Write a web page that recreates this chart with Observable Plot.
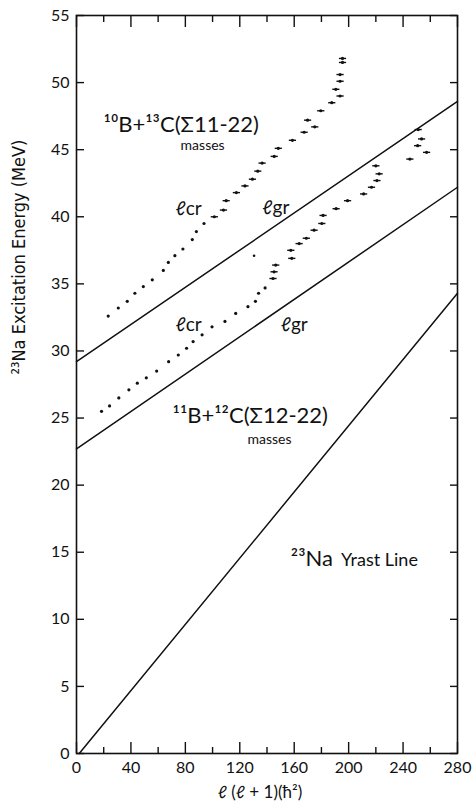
<!DOCTYPE html>
<html>
<head>
<meta charset="utf-8">
<script src="https://cdn.jsdelivr.net/npm/d3@7"></script>
<script src="https://cdn.jsdelivr.net/npm/@observablehq/plot@0.6"></script>
<style>
  html, body { margin: 0; padding: 0; background: #fff; }
  svg { display: block; }
</style>
</head>
<body>
<div id="chart"></div>
<script>
// ---- Data ----
// 10B + 13C series
const upperX = [23.3,30.7,37.3,42.9,49.1,55.7,63.8,67.5,72.3,78.2,85.1,88.1,93.7,101.3,108.0,110.0,117.5,123.8,129.3,133.2,136.4,145.3,148.3,158.7,167.3,175.1,169.8,179.5,187.6,193.7,190.6,193.7,193.7,195.5,195.5];
const upperY = [32.6,33.2,33.7,34.3,34.8,35.3,36.0,36.6,37.1,37.6,38.3,38.9,39.5,40.0,40.5,41.2,41.8,42.3,42.8,43.4,44.0,44.5,45.1,45.7,46.3,46.7,47.2,47.9,48.5,49.0,49.5,50.1,50.6,51.5,51.8];
// 11B + 12C series
const lowerX = [18.4,24.3,31.1,38.5,44.7,51.3,58.9,67.7,74.8,80.9,85.7,92.3,99.6,109.1,117.0,126.0,131.5,133.8,138.6,144.4,145.2,146.4,158.2,157.5,163.6,168.9,174.6,180.3,181.2,190.8,199.2,211.0,216.8,220.8,222.4,220.0,251.1,253.6,250.7,257.3,245.0];
const lowerY = [25.5,25.9,26.5,27.1,27.6,28.0,28.5,29.2,29.7,30.2,30.7,31.2,31.8,32.2,32.8,33.3,33.7,34.3,34.7,35.4,35.9,36.4,36.9,37.5,38.0,38.4,39.0,39.5,40.1,40.6,41.2,41.7,42.2,42.7,43.2,43.8,46.5,45.8,45.3,44.8,44.3];
const strayX = [130.5];
const strayY = [37.1];
// first index drawn with a horizontal error bar
const upperBarFrom = 13;
const lowerBarFrom = 19;
// straight lines (x, E)
const lineUpperX = [0, 280], lineUpperY = [29.2, 48.6];
const lineLowerX = [0, 280], lineLowerY = [22.7, 42.2];
const yrastX = [2, 280], yrastY = [0, 34.3];
// ticks
const xTickLabels = [0, 40, 80, 120, 160, 200, 240, 280];
const xMinorTicks = [20, 60, 100, 140, 180, 220, 260];
const yTickLabels = [0, 5, 10, 15, 20, 25, 30, 35, 40, 45, 50, 55];

const toPts = (xs, ys) => xs.map((x, i) => ({x, y: ys[i], i}));
const upper = toPts(upperX, upperY);
const lower = toPts(lowerX, lowerY);
const stray = toPts(strayX, strayY);
const lines = [
  ...toPts(lineUpperX, lineUpperY).map(d => ({...d, k: "gu"})),
  ...toPts(lineLowerX, lineLowerY).map(d => ({...d, k: "gl"})),
  ...toPts(yrastX, yrastY).map(d => ({...d, k: "yr"}))
];
const barred = [...upper.filter(d => d.i >= upperBarFrom), ...lower.filter(d => d.i >= lowerBarFrom)];

const hbar = { draw(ctx, size) { const r = Math.sqrt(size / Math.PI); ctx.moveTo(-r, 0); ctx.lineTo(r, 0); } };

const W = 474, H = 806, ML = 76, MR = 17, MT = 15, MB = 53;
const FW = W - ML - MR, FH = H - MT - MB;
const font = "Lato, 'DejaVu Sans', sans-serif";

const chart = Plot.plot({
  width: W, height: H,
  marginLeft: ML, marginRight: MR, marginTop: MT, marginBottom: MB,
  x: {domain: [0, 280]},
  y: {domain: [0, 55]},
  style: {fontFamily: font, background: "#fff", color: "#111"},
  marks: [
    Plot.frame({stroke: "#111", strokeWidth: 1.6}),
    // inward ticks
    Plot.tickX(xTickLabels, {x: d => d, insetTop: FH - 11, stroke: "#111", strokeWidth: 1.4}),
    Plot.tickX(xMinorTicks, {x: d => d, insetTop: FH - 6, stroke: "#111", strokeWidth: 1.4}),
    Plot.tickX(xTickLabels, {x: d => d, insetBottom: FH - 12, stroke: "#111", strokeWidth: 1.4}),
    Plot.tickX(xMinorTicks, {x: d => d, insetBottom: FH - 7, stroke: "#111", strokeWidth: 1.4}),
    Plot.tickY(yTickLabels, {y: d => d, insetRight: FW - 8, stroke: "#111", strokeWidth: 1.4}),
    Plot.tickY(yTickLabels, {y: d => d, insetLeft: FW - 7, stroke: "#111", strokeWidth: 1.4}),
    Plot.axisX(xTickLabels, {tickSize: 0, tickPadding: 8, fontSize: 16, label: null}),
    Plot.axisY(yTickLabels, {tickSize: 0, tickPadding: 7, fontSize: 16, label: null}),
    Plot.text(["ℓ (ℓ + 1)(ħ²)"], {frameAnchor: "bottom", dy: 44, dx: -7, fontSize: 17}),
    Plot.text(["²³Na Excitation Energy (MeV)"], {frameAnchor: "left", rotate: -90, dx: -57, dy: -10, fontSize: 18, fontFamily: "'Liberation Sans Narrow', 'DejaVu Sans Condensed', sans-serif"}),
    // lines
    Plot.line(lines, {x: "x", y: "y", z: "k", stroke: "#111", strokeWidth: 1.5}),
    // points
    Plot.dot(upper, {x: "x", y: "y", r: 1.6, fill: "#111"}),
    Plot.dot(lower, {x: "x", y: "y", r: 1.6, fill: "#111"}),
    Plot.dot(stray, {x: "x", y: "y", r: 1.3, fill: "#111"}),
    Plot.dot(barred, {x: "x", y: "y", symbol: hbar, r: 3.6, stroke: "#111", strokeWidth: 1.4}),
    // annotations
    Plot.text(["¹⁰B+¹³C(Σ11-22)"], {x: 19.9, y: 46.3, textAnchor: "start", lineAnchor: "bottom", fontSize: 22}),
    Plot.text(["masses"], {x: 76.5, y: 44.95, textAnchor: "start", lineAnchor: "bottom", fontSize: 14}),
    Plot.text(["¹¹B+¹²C(Σ12-22)"], {x: 70.6, y: 24.6, textAnchor: "start", lineAnchor: "bottom", fontSize: 22}),
    Plot.text(["masses"], {x: 125.6, y: 23.1, textAnchor: "start", lineAnchor: "bottom", fontSize: 14}),
    Plot.text(["ℓcr"], {x: 72.8, y: 40.1, textAnchor: "start", lineAnchor: "bottom", fontSize: 19}),
    Plot.text(["ℓgr"], {x: 136.6, y: 40.2, textAnchor: "start", lineAnchor: "bottom", fontSize: 19}),
    Plot.text(["ℓcr"], {x: 72.8, y: 31.5, textAnchor: "start", lineAnchor: "bottom", fontSize: 19}),
    Plot.text(["ℓgr"], {x: 150.1, y: 31.5, textAnchor: "start", lineAnchor: "bottom", fontSize: 19}),
    Plot.text(["²³Na"], {x: 157.5, y: 14.0, textAnchor: "start", lineAnchor: "bottom", fontSize: 22}),
    Plot.text(["Yrast Line"], {x: 194.3, y: 14.0, textAnchor: "start", lineAnchor: "bottom", fontSize: 18})
  ]
});
document.getElementById("chart").appendChild(chart);
</script>
</body>
</html>
